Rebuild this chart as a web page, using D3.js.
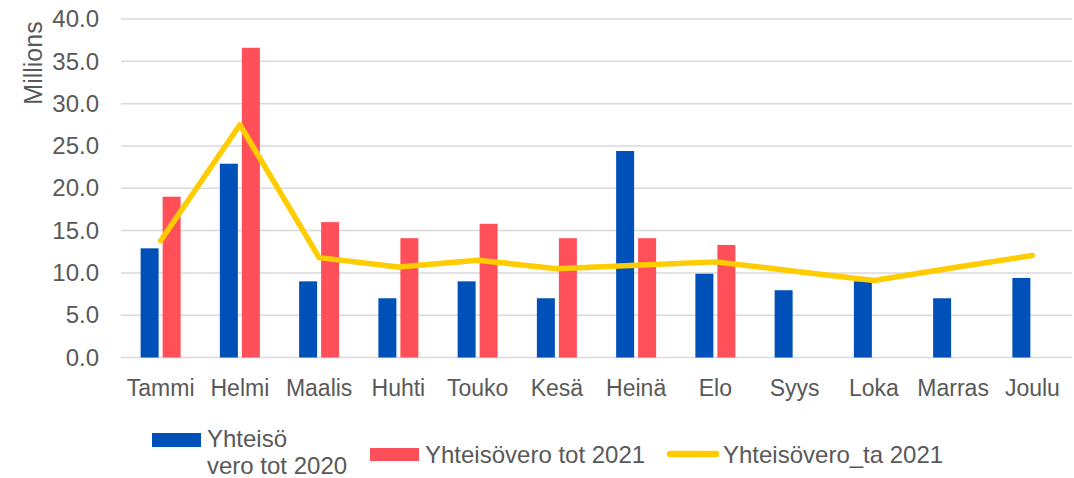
<!DOCTYPE html>
<html>
<head>
<meta charset="utf-8">
<script src="https://cdn.jsdelivr.net/npm/d3@7"></script>
<style>
  body { margin: 0; background: #fff; }
  svg { font-family: "Liberation Sans", Arial, sans-serif; }
</style>
</head>
<body>
<svg class="chart" width="1074" height="478"></svg>
<script>
let months = ["Tammi", "Helmi", "Maalis", "Huhti", "Touko", "Kesä", "Heinä", "Elo", "Syys", "Loka", "Marras", "Joulu"];
let vero2020 = [12.9, 22.9, 9.0, 7.0, 9.0, 7.0, 24.4, 9.9, 7.95, 9.0, 7.0, 9.4];
let vero2021 = [19.0, 36.6, 16.0, 14.1, 15.8, 14.1, 14.1, 13.3, null, null, null, null];
let veroTa2021 = [13.8, 27.5, 11.8, 10.7, 11.5, 10.5, 10.9, 11.3, 10.2, 9.1, 10.6, 12.05];
let yTicks = [0, 5, 10, 15, 20, 25, 30, 35, 40];

let blue = "#0050B9", red = "#FF505A", yellow = "#FFCC00", textColor = "#595959";
let fontFamily = "Liberation Sans, Arial, sans-serif";

let svg = d3.select(".chart");
let margin = {top: 19, left: 121, right: 2, bottom: 120};
let plotWidth = 1074 - margin.left - margin.right;
let plotHeight = 357.5 - margin.top;

let x = d3.scaleBand().domain(months).range([0, plotWidth]);
let y = d3.scaleLinear().domain([0, 40]).range([plotHeight, 0]);

let plot = svg.append("g").attr("transform", translate(margin.left, margin.top));

// gridlines
plot.selectAll(".grid").data(yTicks).enter().append("line")
  .attr("x1", 0).attr("x2", plotWidth)
  .attr("y1", d => y(d)).attr("y2", d => y(d))
  .attr("stroke", "#D9D9D9").attr("stroke-width", 1.5);

// y axis
let yAxis = d3.axisLeft(y).tickValues(yTicks).tickSize(0).tickPadding(22).tickFormat(d3.format(".1f"));
let yGroup = plot.append("g").call(yAxis);
yGroup.select(".domain").remove();
yGroup.selectAll("text").attr("font-size", 24).attr("fill", textColor).attr("font-family", fontFamily);

// x axis
let xAxis = d3.axisBottom(x).tickSize(0).tickPadding(22);
let xGroup = plot.append("g").attr("transform", translate(0, plotHeight)).call(xAxis);
xGroup.select(".domain").remove();
xGroup.selectAll("text").attr("font-size", 23).attr("fill", textColor).attr("font-family", fontFamily);

// y label
svg.append("text")
  .attr("transform", "translate(42,63) rotate(-90)")
  .attr("text-anchor", "middle")
  .attr("font-size", 25).attr("fill", textColor)
  .text("Millions");

let barW = 18, gap = 2;
// bars 2020
plot.selectAll(".b2020").data(months).enter().append("rect")
  .attr("x", (d) => x(d) + x.bandwidth() / 2 - gap - barW)
  .attr("y", (d, i) => y(vero2020[i]))
  .attr("width", barW)
  .attr("height", (d, i) => plotHeight - y(vero2020[i]))
  .attr("fill", blue);

// bars 2021
plot.selectAll(".b2021").data(months.filter((d, i) => vero2021[i] != null)).enter().append("rect")
  .attr("x", (d) => x(d) + x.bandwidth() / 2 + gap)
  .attr("y", (d, i) => y(vero2021[i]))
  .attr("width", barW)
  .attr("height", (d, i) => plotHeight - y(vero2021[i]))
  .attr("fill", red);

// line
let line = d3.line()
  .x((d, i) => x(months[i]) + x.bandwidth() / 2)
  .y(d => y(d));
plot.append("path").datum(veroTa2021)
  .attr("d", line)
  .attr("fill", "none")
  .attr("stroke", yellow)
  .attr("stroke-width", 5.5)
  .attr("stroke-linecap", "round")
  .attr("stroke-linejoin", "round");

// legend
let legend = svg.append("g").attr("font-size", 24).attr("fill", textColor);
legend.append("rect").attr("x", 152).attr("y", 433).attr("width", 49).attr("height", 14).attr("fill", blue);
legend.append("text").attr("x", 207).attr("y", 447).text("Yhteisö");
legend.append("text").attr("x", 207).attr("y", 474).text("vero tot 2020");
legend.append("rect").attr("x", 370).attr("y", 448).attr("width", 49).attr("height", 13).attr("fill", red);
legend.append("text").attr("x", 425).attr("y", 463).text("Yhteisövero tot 2021");
legend.append("line").attr("x1", 670).attr("x2", 716).attr("y1", 454).attr("y2", 454)
  .attr("stroke", yellow).attr("stroke-width", 6.5).attr("stroke-linecap", "round");
legend.append("text").attr("x", 723).attr("y", 463).text("Yhteisövero_ta 2021");

function translate(x, y) {
  return 'translate(' + x + ',' + y + ')';
}
</script>
</body>
</html>
